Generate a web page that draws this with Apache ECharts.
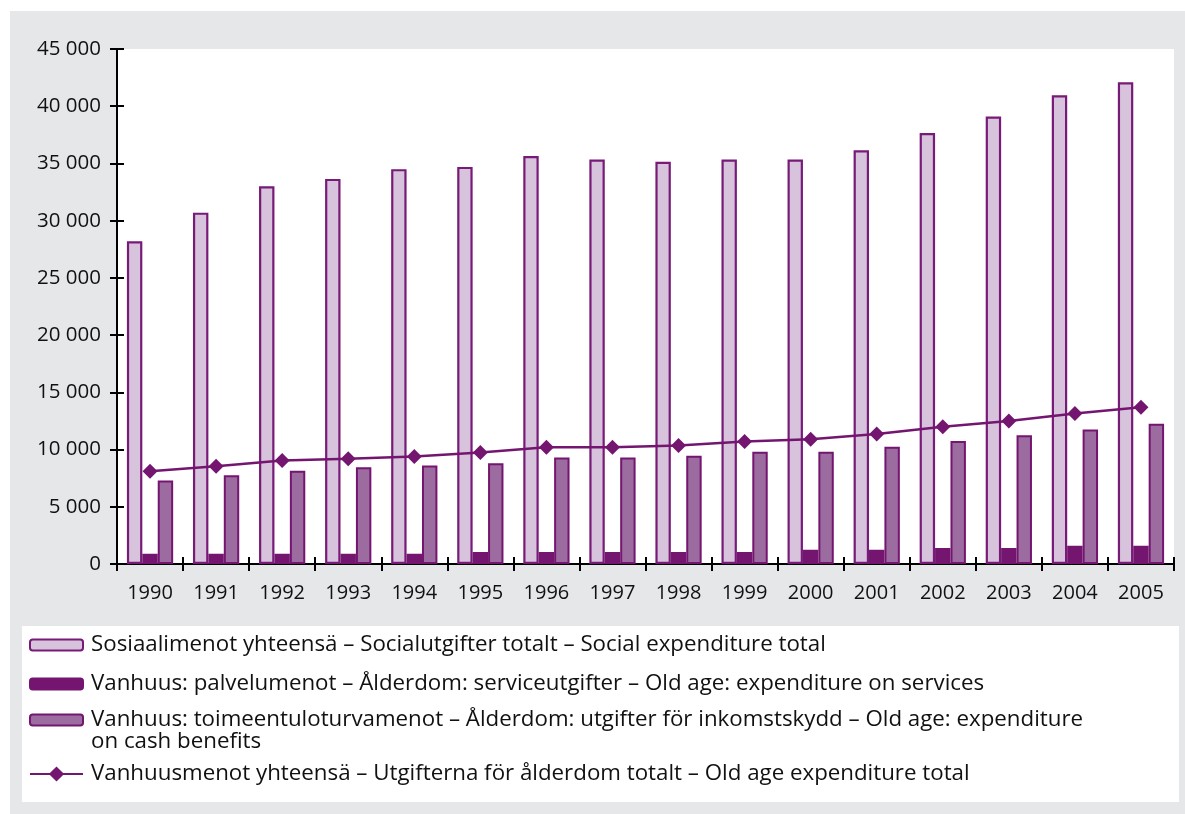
<!DOCTYPE html>
<html>
<head>
<meta charset="utf-8">
<script src="https://cdn.jsdelivr.net/npm/echarts@6/dist/echarts.min.js"></script>
<style>
  html, body { margin: 0; padding: 0; background: #ffffff; }
  #frame { position: absolute; left: 10px; top: 11px; width: 1175px; height: 803px; background: #e6e7e9; }
  #chart { width: 1175px; height: 803px; }
</style>
</head>
<body>
<div id="frame"><div id="chart"></div></div>
<script>
const years = ['1990','1991','1992','1993','1994','1995','1996','1997','1998','1999','2000','2001','2002','2003','2004','2005'];
const socialTotal = [28200, 30700, 33000, 33650, 34500, 34700, 35650, 35350, 35150, 35350, 35350, 36150, 37650, 39100, 40950, 42100];
const oldAgeServices = [900, 900, 900, 900, 900, 1050, 1050, 1050, 1050, 1050, 1250, 1250, 1400, 1400, 1600, 1600];
const oldAgeCash = [7300, 7750, 8150, 8450, 8600, 8800, 9300, 9300, 9450, 9800, 9800, 10250, 10750, 11250, 11750, 12250];
const oldAgeTotal = [8100, 8550, 9050, 9200, 9400, 9750, 10200, 10200, 10350, 10700, 10900, 11350, 12000, 12500, 13150, 13700];

const names = [
  'Sosiaalimenot yhteensä – Socialutgifter totalt – Social expenditure total',
  'Vanhuus: palvelumenot – Ålderdom: serviceutgifter – Old age: expenditure on services',
  'Vanhuus: toimeentuloturvamenot – Ålderdom: utgifter för inkomstskydd – Old age: expenditure on cash benefits',
  'Vanhuusmenot yhteensä – Utgifterna för ålderdom totalt – Old age expenditure total'
];
const wrapTail = 'on cash benefits';

const FONT = 'Open Sans';
const LEGEND_SIZE = 22.3;
const PURPLE = '#741670';
const fmt = v => v === 0 ? '0' : String(v).replace(/\B(?=(\d{3})+(?!\d))/g, ' ');

const legendBase = {
  left: 19, orient: 'vertical', padding: 0, itemWidth: 53, itemHeight: 11,
  selectedMode: false,
  textStyle: { fontFamily: FONT, fontSize: LEGEND_SIZE, color: '#111', lineHeight: 24, padding: [0, 0, 0, 3] }
};

const chart = echarts.init(document.getElementById('chart'), null, { renderer: 'canvas' });
chart.setOption({
  animation: false,
  graphic: [{
    type: 'rect', left: 12, top: 615, shape: { width: 1157, height: 176 }, style: { fill: '#ffffff' }, z: 0, silent: true
  }, {
    type: 'text', left: 81, top: 731 - 12, z: 5, silent: true,
    style: { text: wrapTail, font: LEGEND_SIZE + 'px "' + FONT + '"', fill: '#111', lineHeight: 24, verticalAlign: 'top' }
  }],
  grid: { left: 107, top: 38, right: 11, bottom: 250, show: true, backgroundColor: '#ffffff', borderWidth: 0, containLabel: false },
  legend: [
    Object.assign({}, legendBase, { top: 622, data: [names[0]] }),
    Object.assign({}, legendBase, { top: 661, data: [names[1]] }),
    Object.assign({}, legendBase, {
      top: 697, data: [names[2]],
      formatter: n => n.replace(' ' + wrapTail, '')
    }),
    Object.assign({}, legendBase, { top: 751, itemHeight: 19, data: [names[3]] })
  ],
  xAxis: [{
    type: 'category', data: years, position: 'bottom',
    axisLine: { lineStyle: { color: '#000', width: 2 } },
    axisTick: { show: true, length: 7, lineStyle: { color: '#000', width: 2 } },
    axisLabel: { fontFamily: FONT, fontSize: 20, color: '#111', margin: 19 }
  }, {
    type: 'category', data: years, position: 'bottom',
    axisLine: { show: false },
    axisTick: { show: true, inside: true, length: 7, lineStyle: { color: '#000', width: 2 } },
    axisLabel: { show: false }
  }],
  yAxis: [{
    type: 'value', min: 0, max: 45000, interval: 5000,
    axisLine: { show: true, lineStyle: { color: '#000', width: 2 } },
    axisTick: { show: true, length: 7, lineStyle: { color: '#000', width: 2 } },
    splitLine: { show: false },
    axisLabel: { fontFamily: FONT, fontSize: 20.5, color: '#111', margin: 16, formatter: fmt }
  }, {
    type: 'value', min: 0, max: 45000, interval: 5000, position: 'left',
    axisLine: { show: false },
    axisTick: { show: true, inside: true, length: 7, lineStyle: { color: '#000', width: 2 } },
    splitLine: { show: false },
    axisLabel: { show: false }
  }],
  series: [
    { name: names[0], type: 'bar', data: socialTotal, barGap: '0%', barCategoryGap: '30%',
      itemStyle: { color: '#d7c4dc', borderColor: '#781a78', borderWidth: 2.2 } },
    { name: names[1], type: 'bar', data: oldAgeServices,
      itemStyle: { color: PURPLE, borderColor: PURPLE, borderWidth: 2 } },
    { name: names[2], type: 'bar', data: oldAgeCash,
      itemStyle: { color: '#9c6b9f', borderColor: PURPLE, borderWidth: 2 } },
    { name: names[3], type: 'line', data: oldAgeTotal, symbol: 'diamond', symbolSize: 15, z: 5,
      lineStyle: { color: PURPLE, width: 2.5 }, itemStyle: { color: PURPLE } }
  ]
});
</script>
</body>
</html>
